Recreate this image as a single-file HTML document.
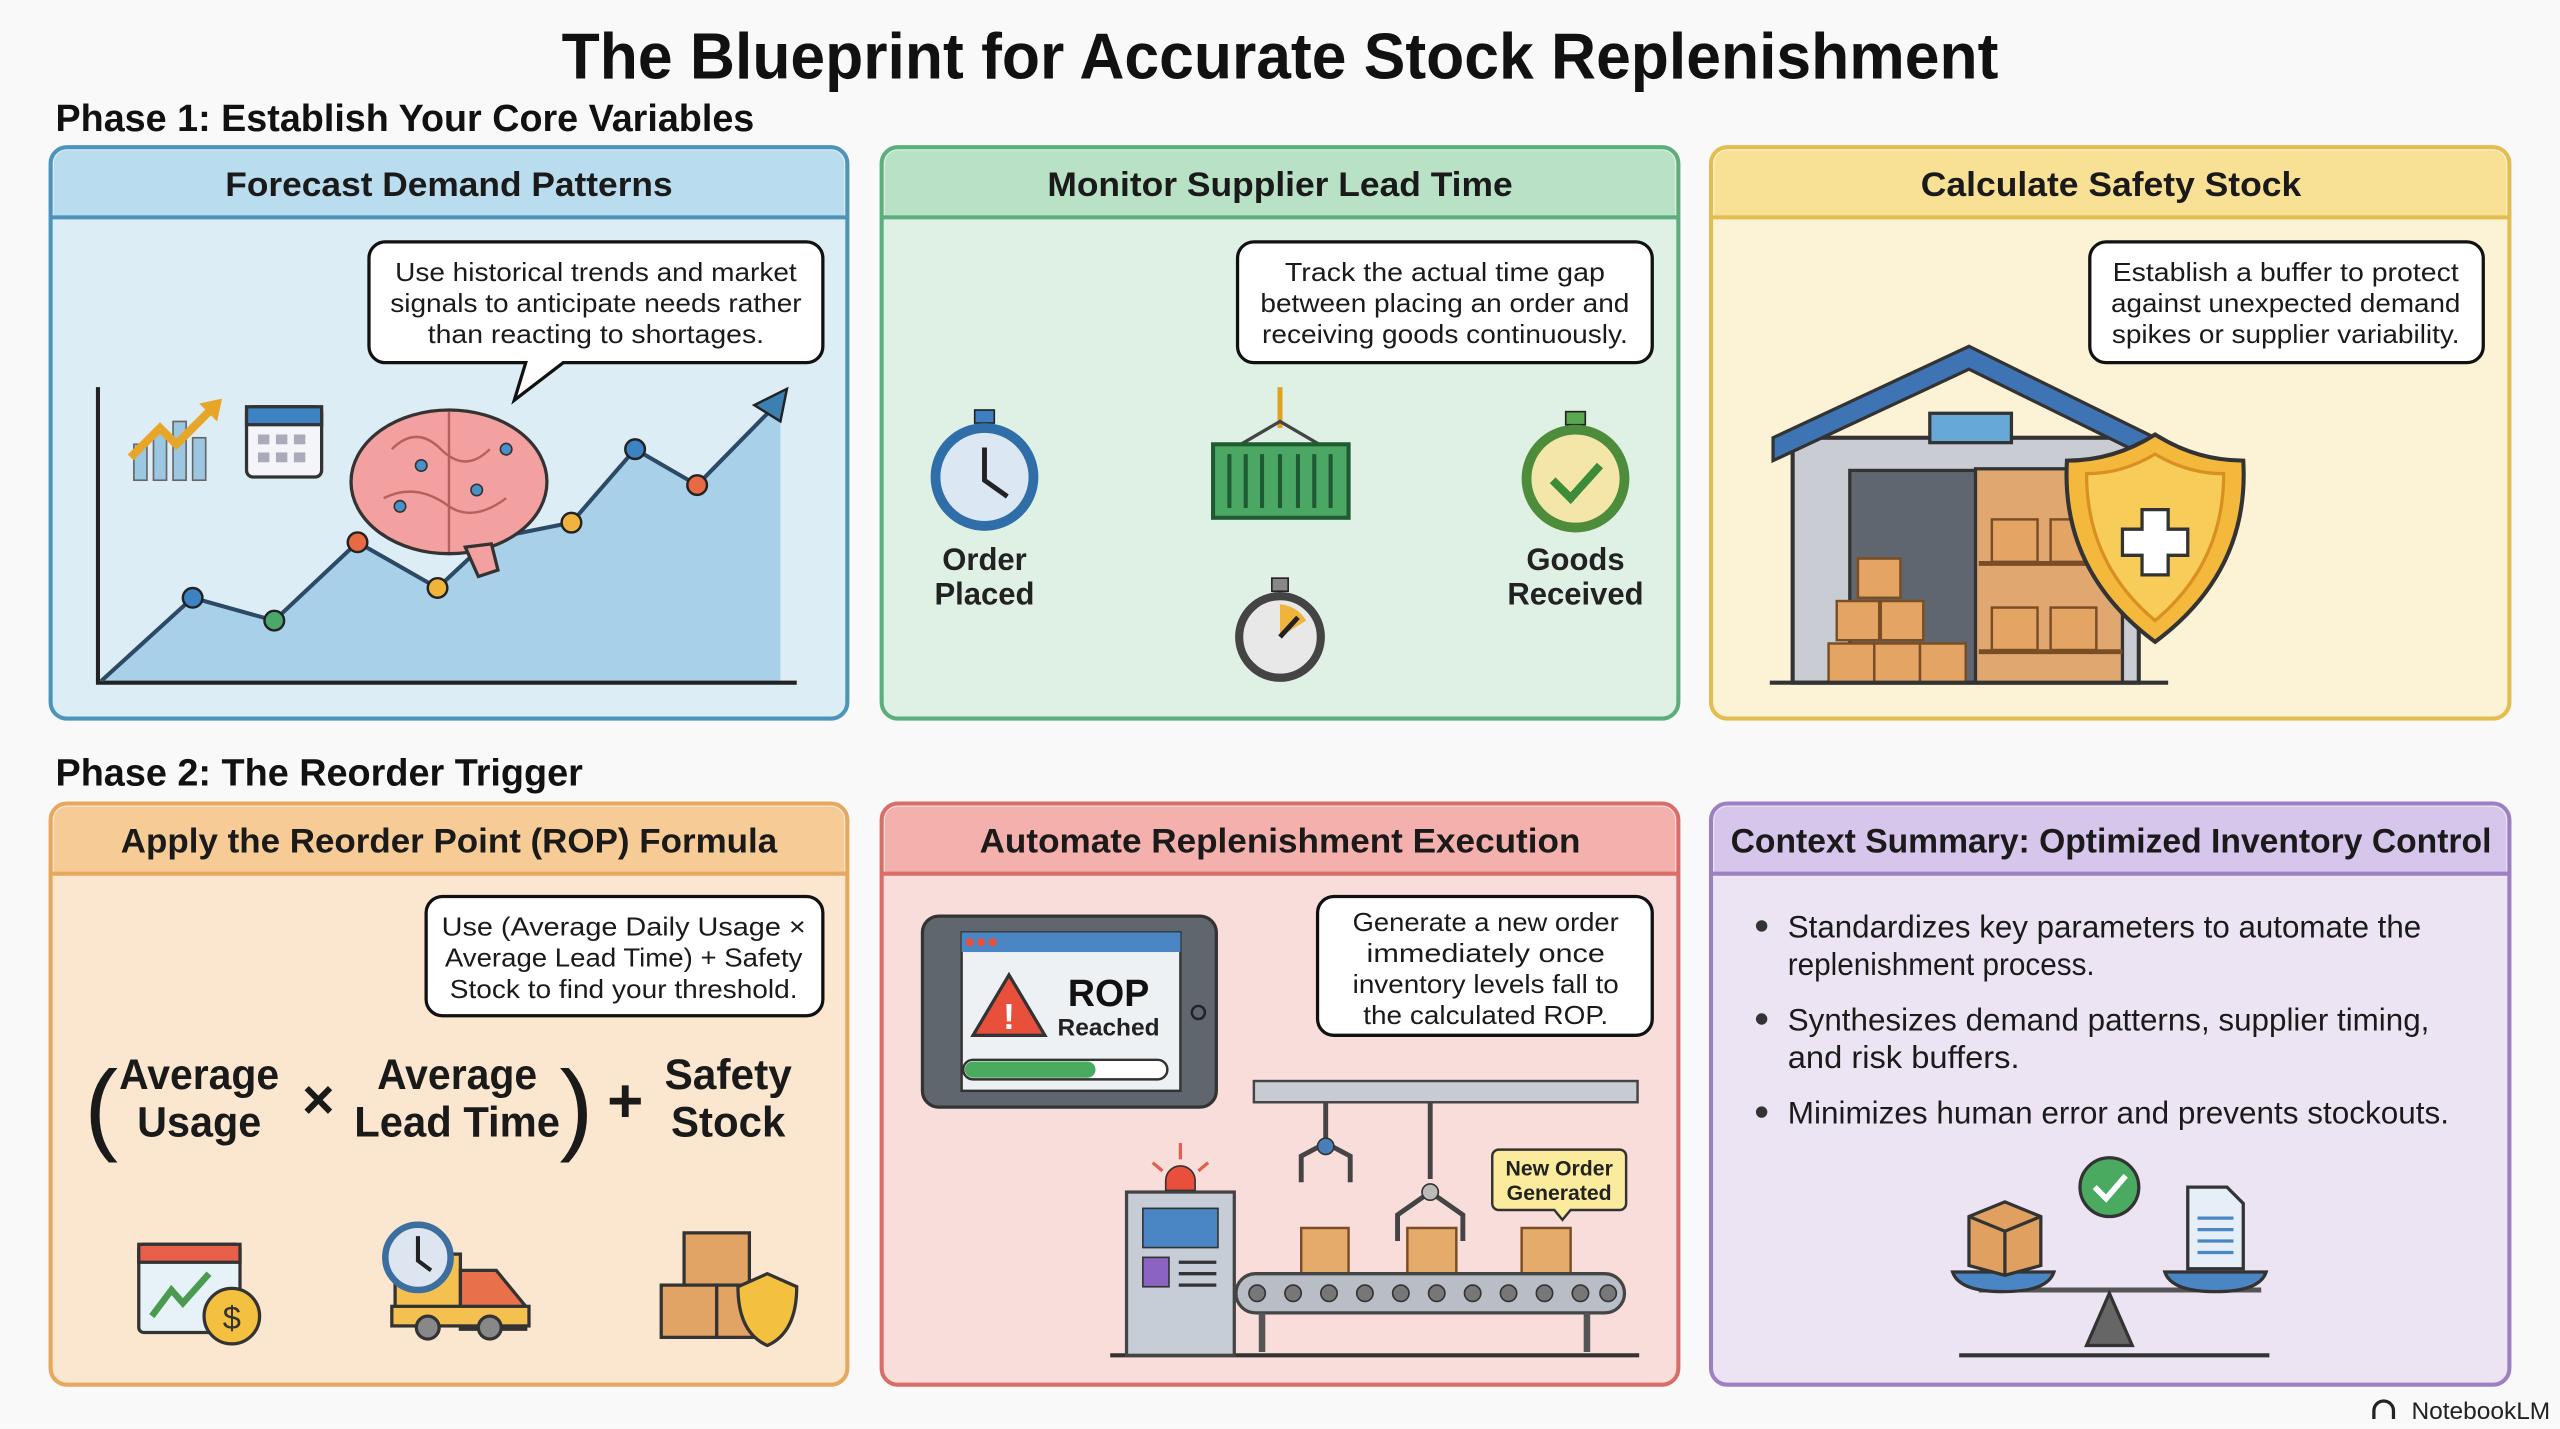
<!DOCTYPE html>
<html><head><meta charset="utf-8"><style>
html,body{margin:0;padding:0;background:#f8f9f8;}
svg{display:block;}
text{font-family:"Liberation Sans",sans-serif;}
</style></head><body>
<svg width="2560" height="1429" viewBox="0 0 1568 875" xmlns="http://www.w3.org/2000/svg">
<rect width="1568" height="875" fill="#f8f9f8"/>
<text x="784" y="48" text-anchor="middle" font-size="40" font-weight="bold" fill="#111" textLength="880" lengthAdjust="spacingAndGlyphs">The Blueprint for Accurate Stock Replenishment</text>
<text x="34" y="80" font-size="23" font-weight="bold" fill="#111" textLength="428" lengthAdjust="spacingAndGlyphs">Phase 1: Establish Your Core Variables</text>
<text x="34" y="481" font-size="23" font-weight="bold" fill="#111" textLength="323" lengthAdjust="spacingAndGlyphs">Phase 2: The Reorder Trigger</text>

<!-- panels -->
<g stroke-width="2.5">
<rect x="31" y="90" width="488" height="350" rx="10" fill="#ddedf6" stroke="#4d94bd"/>
<path d="M33 133 V100 a8 8 0 0 1 8 -8 H509 a8 8 0 0 1 8 8 V133 Z" fill="#b9dcef" stroke="none"/>
<line x1="32" y1="133" x2="518" y2="133" stroke="#4d94bd"/>
<rect x="540" y="90" width="488" height="350" rx="10" fill="#dff0e4" stroke="#5cae7a"/>
<path d="M542 133 V100 a8 8 0 0 1 8 -8 H1018 a8 8 0 0 1 8 8 V133 Z" fill="#b8e1c6"/>
<line x1="541" y1="133" x2="1027" y2="133" stroke="#5cae7a"/>
<rect x="1048" y="90" width="489" height="350" rx="10" fill="#fcf2d6" stroke="#e4bd50"/>
<path d="M1050 133 V100 a8 8 0 0 1 8 -8 H1527 a8 8 0 0 1 8 8 V133 Z" fill="#f8e094"/>
<line x1="1049" y1="133" x2="1536" y2="133" stroke="#e4bd50"/>
<rect x="31" y="492" width="488" height="356" rx="10" fill="#fbe7cf" stroke="#e7a75e"/>
<path d="M33 535 V502 a8 8 0 0 1 8 -8 H509 a8 8 0 0 1 8 8 V535 Z" fill="#f7cb95"/>
<line x1="32" y1="535" x2="518" y2="535" stroke="#e7a75e"/>
<rect x="540" y="492" width="488" height="356" rx="10" fill="#f9dddb" stroke="#d96e69"/>
<path d="M542 535 V502 a8 8 0 0 1 8 -8 H1018 a8 8 0 0 1 8 8 V535 Z" fill="#f4b0ac"/>
<line x1="541" y1="535" x2="1027" y2="535" stroke="#d96e69"/>
<rect x="1048" y="492" width="489" height="356" rx="10" fill="#ece4f3" stroke="#9d7fc4"/>
<path d="M1050 535 V502 a8 8 0 0 1 8 -8 H1527 a8 8 0 0 1 8 8 V535 Z" fill="#d7c6eb"/>
<line x1="1049" y1="535" x2="1536" y2="535" stroke="#9d7fc4"/>
</g>
<g font-size="21" font-weight="bold" fill="#1a1a1a" text-anchor="middle">
<text x="275" y="120" textLength="274" lengthAdjust="spacingAndGlyphs">Forecast Demand Patterns</text>
<text x="784" y="120" textLength="285" lengthAdjust="spacingAndGlyphs">Monitor Supplier Lead Time</text>
<text x="1293" y="120" textLength="233" lengthAdjust="spacingAndGlyphs">Calculate Safety Stock</text>
<text x="275" y="522" textLength="402" lengthAdjust="spacingAndGlyphs">Apply the Reorder Point (ROP) Formula</text>
<text x="784" y="522" textLength="368" lengthAdjust="spacingAndGlyphs">Automate Replenishment Execution</text>
<text x="1293" y="522" textLength="466" lengthAdjust="spacingAndGlyphs">Context Summary: Optimized Inventory Control</text>
</g>

<!-- callouts -->
<g fill="#fff" stroke="#111" stroke-width="2">
<path d="M236 148 H494 a10 10 0 0 1 10 10 V212 a10 10 0 0 1 -10 10 H345 L315 245 L322 222 H236 a10 10 0 0 1 -10 -10 V158 a10 10 0 0 1 10 -10Z"/>
<rect x="758" y="148" width="254" height="74" rx="10"/>
<rect x="1280" y="148" width="241" height="74" rx="10"/>
<rect x="261" y="549" width="243" height="73" rx="10"/>
<rect x="807" y="549" width="205" height="85" rx="10"/>
</g>
<g font-size="16" fill="#1a1a1a" text-anchor="middle">
<text x="365" y="172" textLength="246" lengthAdjust="spacingAndGlyphs">Use historical trends and market</text>
<text x="365" y="191" textLength="252" lengthAdjust="spacingAndGlyphs">signals to anticipate needs rather</text>
<text x="365" y="210" textLength="206" lengthAdjust="spacingAndGlyphs">than reacting to shortages.</text>
<text x="885" y="172" textLength="196" lengthAdjust="spacingAndGlyphs">Track the actual time gap</text>
<text x="885" y="191" textLength="226" lengthAdjust="spacingAndGlyphs">between placing an order and</text>
<text x="885" y="210" textLength="224" lengthAdjust="spacingAndGlyphs">receiving goods continuously.</text>
<text x="1400" y="172" textLength="212" lengthAdjust="spacingAndGlyphs">Establish a buffer to protect</text>
<text x="1400" y="191" textLength="214" lengthAdjust="spacingAndGlyphs">against unexpected demand</text>
<text x="1400" y="210" textLength="213" lengthAdjust="spacingAndGlyphs">spikes or supplier variability.</text>
<text x="382" y="573" textLength="223" lengthAdjust="spacingAndGlyphs">Use (Average Daily Usage ×</text>
<text x="382" y="592" textLength="219" lengthAdjust="spacingAndGlyphs">Average Lead Time) + Safety</text>
<text x="382" y="611" textLength="213" lengthAdjust="spacingAndGlyphs">Stock to find your threshold.</text>
<text x="910" y="570" textLength="163" lengthAdjust="spacingAndGlyphs">Generate a new order</text>
<text x="910" y="589" textLength="146" lengthAdjust="spacingAndGlyphs">immediately once</text>
<text x="910" y="608" textLength="163" lengthAdjust="spacingAndGlyphs">inventory levels fall to</text>
<text x="910" y="627" textLength="150" lengthAdjust="spacingAndGlyphs">the calculated ROP.</text>
</g>

<!-- Panel 1 chart -->
<polygon points="62,417 118,366 168,380 219,332 268,360 300,330 350,320 389,275 427,297 478,245 478,417" fill="#a8d0e8"/>
<polyline points="60,237 60,418 488,418" fill="none" stroke="#222" stroke-width="2.5"/>
<polyline points="62,417 118,366 168,380 219,332 268,360 300,330 350,320 389,275 427,297 478,245" fill="none" stroke="#2c4a66" stroke-width="2.5"/>
<polygon points="482,238 462,248 478,258" fill="#3c7fb0" stroke="#222" stroke-width="1.5"/>
<g stroke="#222" stroke-width="1.5">
<circle cx="118" cy="366" r="6" fill="#3d82c2"/><circle cx="168" cy="380" r="6" fill="#4aa868"/>
<circle cx="219" cy="332" r="6" fill="#e86a45"/><circle cx="268" cy="360" r="6" fill="#f0b43c"/>
<circle cx="350" cy="320" r="6" fill="#f0b43c"/><circle cx="389" cy="275" r="6" fill="#3d82c2"/>
<circle cx="427" cy="297" r="6" fill="#e86a45"/>
</g>
<ellipse cx="275" cy="295" rx="60" ry="44" fill="#f2a0a0" stroke="#333" stroke-width="2"/>
<path d="M285 335 l8 18 l12 -4 l-4 -16Z" fill="#f2a0a0" stroke="#333" stroke-width="2"/>
<g fill="none" stroke="#b86060" stroke-width="1.5"><path d="M240 275 q15 -15 30 0 q15 15 30 0"/><path d="M235 305 q20 -10 40 5 q15 10 35 -5"/><line x1="275" y1="252" x2="275" y2="338"/></g>
<g fill="#4a90c8" stroke="#333"><circle cx="258" cy="285" r="3.5"/><circle cx="292" cy="300" r="3.5"/><circle cx="310" cy="275" r="3.5"/><circle cx="245" cy="310" r="3.5"/></g>
<g fill="#9cc7e2" stroke="#666"><rect x="82" y="272" width="8" height="22"/><rect x="94" y="264" width="8" height="30"/><rect x="106" y="258" width="8" height="36"/><rect x="118" y="268" width="8" height="26"/></g>
<polyline points="80,280 98,262 108,272 130,250" fill="none" stroke="#e8a628" stroke-width="5"/>
<polygon points="136,244 122,247 133,258" fill="#e8a628"/>
<rect x="151" y="249" width="46" height="43" rx="4" fill="#f3f5f8" stroke="#333" stroke-width="2"/>
<rect x="151" y="249" width="46" height="11" fill="#3d82c2" stroke="#333" stroke-width="2"/>
<g fill="#aab"><rect x="158" y="266" width="7" height="6"/><rect x="169" y="266" width="7" height="6"/><rect x="180" y="266" width="7" height="6"/><rect x="158" y="277" width="7" height="6"/><rect x="169" y="277" width="7" height="6"/><rect x="180" y="277" width="7" height="6"/></g>

<!-- Panel 2 -->
<rect x="597" y="251" width="12" height="8" fill="#3d7fc0" stroke="#222"/>
<circle cx="603" cy="292" r="30" fill="#dbe8f3" stroke="#2f6ea8" stroke-width="6"/>
<polyline points="603,274 603,294 617,304" fill="none" stroke="#222" stroke-width="3"/>
<text x="603" y="349" text-anchor="middle" font-size="19" font-weight="bold" fill="#222">Order</text>
<text x="603" y="370" text-anchor="middle" font-size="19" font-weight="bold" fill="#222">Placed</text>
<line x1="784" y1="237" x2="784" y2="262" stroke="#e0a020" stroke-width="3"/>
<polyline points="760,272 784,258 808,272" fill="none" stroke="#444" stroke-width="2"/>
<rect x="743" y="272" width="83" height="45" fill="#4aa864" stroke="#1f5a32" stroke-width="2.5"/>
<g stroke="#1f5a32" stroke-width="2.5"><line x1="753" y1="278" x2="753" y2="311"/><line x1="763" y1="278" x2="763" y2="311"/><line x1="773" y1="278" x2="773" y2="311"/><line x1="784" y1="278" x2="784" y2="311"/><line x1="795" y1="278" x2="795" y2="311"/><line x1="805" y1="278" x2="805" y2="311"/><line x1="815" y1="278" x2="815" y2="311"/></g>
<rect x="779" y="354" width="10" height="8" fill="#888" stroke="#222"/>
<circle cx="784" cy="390" r="25" fill="#e8e8e8" stroke="#444" stroke-width="5"/>
<path d="M784 390 L784 370 A20 20 0 0 1 800 380 Z" fill="#f0b43c"/>
<line x1="784" y1="390" x2="795" y2="378" stroke="#222" stroke-width="3"/>
<rect x="959" y="252" width="12" height="8" fill="#5aa850" stroke="#222"/>
<circle cx="965" cy="293" r="30" fill="#f4e6a8" stroke="#4c8c3a" stroke-width="6"/>
<polyline points="951,294 962,305 980,285" fill="none" stroke="#3c8c3a" stroke-width="5"/>
<text x="965" y="349" text-anchor="middle" font-size="19" font-weight="bold" fill="#222">Goods</text>
<text x="965" y="370" text-anchor="middle" font-size="19" font-weight="bold" fill="#222">Received</text>

<!-- Panel 3 warehouse -->
<rect x="1098" y="268" width="212" height="150" fill="#c9cdd3" stroke="#333" stroke-width="2.5"/>
<polygon points="1086,268 1206,212 1320,268 1320,282 1206,226 1086,282" fill="#3f74b4" stroke="#333" stroke-width="2"/>
<rect x="1182" y="253" width="50" height="18" fill="#66a8d8" stroke="#333" stroke-width="2"/>
<rect x="1133" y="288" width="78" height="130" fill="#5f6670" stroke="#333" stroke-width="2"/>
<rect x="1210" y="287" width="90" height="131" fill="#e0a870" stroke="#333" stroke-width="2"/>
<g fill="#e3a464" stroke="#7a4e24" stroke-width="1.5">
<rect x="1138" y="342" width="26" height="24"/><rect x="1125" y="368" width="26" height="24"/><rect x="1152" y="368" width="26" height="24"/>
<rect x="1120" y="394" width="28" height="24"/><rect x="1148" y="394" width="28" height="24"/><rect x="1176" y="394" width="28" height="24"/>
<rect x="1220" y="318" width="28" height="26"/><rect x="1256" y="318" width="28" height="26"/>
<rect x="1220" y="372" width="28" height="26"/><rect x="1256" y="372" width="28" height="26"/>
</g>
<g stroke="#7a4e24" stroke-width="3"><line x1="1212" y1="345" x2="1300" y2="345"/><line x1="1212" y1="399" x2="1300" y2="399"/></g>
<line x1="1084" y1="418" x2="1328" y2="418" stroke="#333" stroke-width="2.5"/>
<path d="M1320 266 Q1345 282 1374 282 Q1378 350 1320 393 Q1262 350 1266 282 Q1295 282 1320 266Z" fill="#f4b83c" stroke="#333" stroke-width="2.5"/>
<path d="M1320 278 Q1340 290 1362 290 Q1362 345 1320 380 Q1278 345 1278 290 Q1300 290 1320 278Z" fill="#f8cc58" stroke="#d89020" stroke-width="2"/>
<path d="M1312 312 h16 v12 h12 v16 h-12 v12 h-16 v-12 h-12 v-16 h12Z" fill="#fff" stroke="#333" stroke-width="2"/>

<!-- Panel 4 formula -->
<g font-weight="bold" fill="#1a1a1a" text-anchor="middle">
<text x="62" y="699" font-size="62" font-weight="normal">(</text>
<text x="122" y="667" font-size="26" textLength="98" lengthAdjust="spacingAndGlyphs">Average</text>
<text x="122" y="696" font-size="26" textLength="76" lengthAdjust="spacingAndGlyphs">Usage</text>
<text x="195" y="685" font-size="34">×</text>
<text x="280" y="667" font-size="26" textLength="98" lengthAdjust="spacingAndGlyphs">Average</text>
<text x="280" y="696" font-size="26" textLength="126" lengthAdjust="spacingAndGlyphs">Lead Time</text>
<text x="353" y="699" font-size="62" font-weight="normal">)</text>
<text x="383" y="687" font-size="38">+</text>
<text x="446" y="667" font-size="26" textLength="78" lengthAdjust="spacingAndGlyphs">Safety</text>
<text x="446" y="696" font-size="26" textLength="70" lengthAdjust="spacingAndGlyphs">Stock</text>
</g>
<rect x="85" y="762" width="62" height="54" rx="3" fill="#e6f2f8" stroke="#333" stroke-width="2"/>
<rect x="85" y="762" width="62" height="11" fill="#e8604a" stroke="#333" stroke-width="2"/>
<polyline points="93,806 105,790 112,798 128,780" fill="none" stroke="#4a9a50" stroke-width="4"/>
<circle cx="142" cy="806" r="17" fill="#f4c040" stroke="#333" stroke-width="2"/>
<text x="142" y="814" text-anchor="middle" font-size="20" fill="#333">$</text>
<rect x="242" y="768" width="40" height="40" fill="#f4c050" stroke="#333" stroke-width="2"/>
<path d="M282 778 h22 l18 22 v14 h-40Z" fill="#e8704a" stroke="#333" stroke-width="2"/>
<rect x="240" y="800" width="84" height="12" fill="#f4c050" stroke="#333" stroke-width="2"/>
<circle cx="262" cy="813" r="7" fill="#888" stroke="#333" stroke-width="2"/><circle cx="300" cy="813" r="7" fill="#888" stroke="#333" stroke-width="2"/>
<circle cx="256" cy="770" r="20" fill="#dde6f0" stroke="#3c6ea0" stroke-width="4"/>
<polyline points="256,757 256,772 264,778" fill="none" stroke="#222" stroke-width="2.5"/>
<g fill="#e2a464" stroke="#333" stroke-width="2"><rect x="419" y="755" width="40" height="32"/><rect x="405" y="787" width="34" height="32"/><rect x="439" y="787" width="34" height="32"/></g>
<path d="M470 780 l18 8 q0 28 -18 36 q-18 -8 -18 -36Z" fill="#f4c040" stroke="#333" stroke-width="2"/>

<!-- Panel 5 -->
<rect x="565" y="561" width="180" height="117" rx="10" fill="#5f666e" stroke="#333" stroke-width="2"/>
<rect x="589" y="571" width="134" height="97" fill="#eef1f4" stroke="#333" stroke-width="1.5"/>
<rect x="589" y="571" width="134" height="12" fill="#4a86c4"/>
<g fill="#e85040"><circle cx="594" cy="577" r="2.5"/><circle cx="601" cy="577" r="2.5"/><circle cx="608" cy="577" r="2.5"/></g>
<polygon points="618,597 596,634 640,634" fill="#e8503c" stroke="#333" stroke-width="2"/>
<text x="618" y="630" text-anchor="middle" font-size="22" font-weight="bold" fill="#fff">!</text>
<text x="679" y="616" text-anchor="middle" font-size="23" font-weight="bold" fill="#111">ROP</text>
<text x="679" y="634" text-anchor="middle" font-size="15" font-weight="bold" fill="#222">Reached</text>
<rect x="590" y="649" width="125" height="12" rx="6" fill="#fff" stroke="#333" stroke-width="1.5"/>
<rect x="591" y="650" width="80" height="10" rx="5" fill="#4aaa60"/>
<circle cx="734" cy="620" r="4" fill="none" stroke="#222" stroke-width="1.5"/>
<rect x="768" y="662" width="235" height="13" fill="#c8ccd2" stroke="#444" stroke-width="1.5"/>
<g fill="none" stroke="#444" stroke-width="3">
<line x1="812" y1="675" x2="812" y2="700"/><path d="M797 724 l0 -16 l15 -8 l15 8 l0 16"/>
<line x1="876" y1="675" x2="876" y2="722"/><path d="M856 760 l0 -16 l20 -14 l20 14 l0 16"/>
</g>
<circle cx="812" cy="702" r="5" fill="#4a7eb8" stroke="#333"/><circle cx="876" cy="730" r="5" fill="#bbb" stroke="#333"/>
<g fill="#e4ab6a" stroke="#7a4e24" stroke-width="1.5"><rect x="797" y="752" width="29" height="28"/><rect x="862" y="752" width="30" height="28"/><rect x="932" y="752" width="30" height="28"/></g>
<rect x="757" y="780" width="238" height="24" rx="12" fill="#b9bec6" stroke="#444" stroke-width="2"/>
<g fill="#777" stroke="#333"><circle cx="770" cy="792" r="5"/><circle cx="792" cy="792" r="5"/><circle cx="814" cy="792" r="5"/><circle cx="836" cy="792" r="5"/><circle cx="858" cy="792" r="5"/><circle cx="880" cy="792" r="5"/><circle cx="902" cy="792" r="5"/><circle cx="924" cy="792" r="5"/><circle cx="946" cy="792" r="5"/><circle cx="968" cy="792" r="5"/><circle cx="985" cy="792" r="5"/></g>
<g stroke="#555" stroke-width="4"><line x1="773" y1="804" x2="773" y2="828"/><line x1="972" y1="804" x2="972" y2="828"/></g>
<line x1="680" y1="830" x2="1004" y2="830" stroke="#333" stroke-width="2.5"/>
<rect x="690" y="730" width="66" height="100" fill="#c6cdd6" stroke="#444" stroke-width="2"/>
<rect x="700" y="740" width="46" height="24" fill="#4a86c4" stroke="#333"/>
<rect x="700" y="770" width="16" height="18" fill="#8a64c0" stroke="#333"/>
<g stroke="#333" stroke-width="2"><line x1="722" y1="773" x2="745" y2="773"/><line x1="722" y1="780" x2="745" y2="780"/><line x1="722" y1="787" x2="745" y2="787"/></g>
<path d="M714 729 v-6 a9 9 0 0 1 18 0 v6Z" fill="#e8503c" stroke="#333"/>
<g stroke="#e06050" stroke-width="2"><line x1="723" y1="700" x2="723" y2="710"/><line x1="706" y1="712" x2="712" y2="717"/><line x1="740" y1="712" x2="734" y2="717"/></g>
<path d="M918 704 h74 a4 4 0 0 1 4 4 v29 a4 4 0 0 1 -4 4 h-30 l-5 6 l-5 -6 h-34 a4 4 0 0 1 -4 -4 v-29 a4 4 0 0 1 4 -4Z" fill="#fbeb9c" stroke="#333" stroke-width="1.5"/>
<text x="955" y="720" text-anchor="middle" font-size="13" font-weight="bold" fill="#222">New Order</text>
<text x="955" y="735" text-anchor="middle" font-size="13" font-weight="bold" fill="#222">Generated</text>

<!-- Panel 6 -->
<g font-size="19" fill="#1a1a1a">
<text x="1095" y="574" textLength="388" lengthAdjust="spacingAndGlyphs">Standardizes key parameters to automate the</text>
<text x="1095" y="597" textLength="188" lengthAdjust="spacingAndGlyphs">replenishment process.</text>
<text x="1095" y="631" textLength="393" lengthAdjust="spacingAndGlyphs">Synthesizes demand patterns, supplier timing,</text>
<text x="1095" y="654" textLength="142" lengthAdjust="spacingAndGlyphs">and risk buffers.</text>
<text x="1095" y="688" textLength="405" lengthAdjust="spacingAndGlyphs">Minimizes human error and prevents stockouts.</text>
</g>
<g fill="#333"><circle cx="1079" cy="567" r="3.5"/><circle cx="1079" cy="624" r="3.5"/><circle cx="1079" cy="681" r="3.5"/></g>
<circle cx="1292" cy="727" r="18" fill="#4aaa60" stroke="#333" stroke-width="2"/>
<polyline points="1283,727 1290,734 1302,720" fill="none" stroke="#fff" stroke-width="3.5"/>
<line x1="1212" y1="790" x2="1385" y2="790" stroke="#555" stroke-width="3"/>
<polygon points="1292,792 1278,824 1306,824" fill="#666" stroke="#333" stroke-width="2"/>
<line x1="1200" y1="830" x2="1390" y2="830" stroke="#333" stroke-width="2.5"/>
<path d="M1196 779 h62 q-4 12 -31 12 q-27 0 -31 -12Z" fill="#4a86c4" stroke="#333" stroke-width="2"/>
<path d="M1326 779 h62 q-4 12 -31 12 q-27 0 -31 -12Z" fill="#4a86c4" stroke="#333" stroke-width="2"/>
<path d="M1206 745 l22 -9 l22 9 v30 l-22 6 l-22 -6Z" fill="#e0a060" stroke="#333" stroke-width="2"/>
<path d="M1206 745 l22 9 l22 -9 M1228 754 v27" fill="none" stroke="#333" stroke-width="2"/>
<path d="M1340 727 h24 l10 10 v40 h-34Z" fill="#e6eef8" stroke="#333" stroke-width="2"/>
<g stroke="#4a86c4" stroke-width="2"><line x1="1346" y1="746" x2="1368" y2="746"/><line x1="1346" y1="753" x2="1368" y2="753"/><line x1="1346" y1="760" x2="1368" y2="760"/><line x1="1346" y1="767" x2="1368" y2="767"/></g>

<text x="1562" y="869" text-anchor="end" font-size="15" fill="#222">NotebookLM</text>
<path d="M1454 869 v-5 a6 6 0 0 1 12 0 v5" fill="none" stroke="#222" stroke-width="2"/>
</svg>
</body></html>
